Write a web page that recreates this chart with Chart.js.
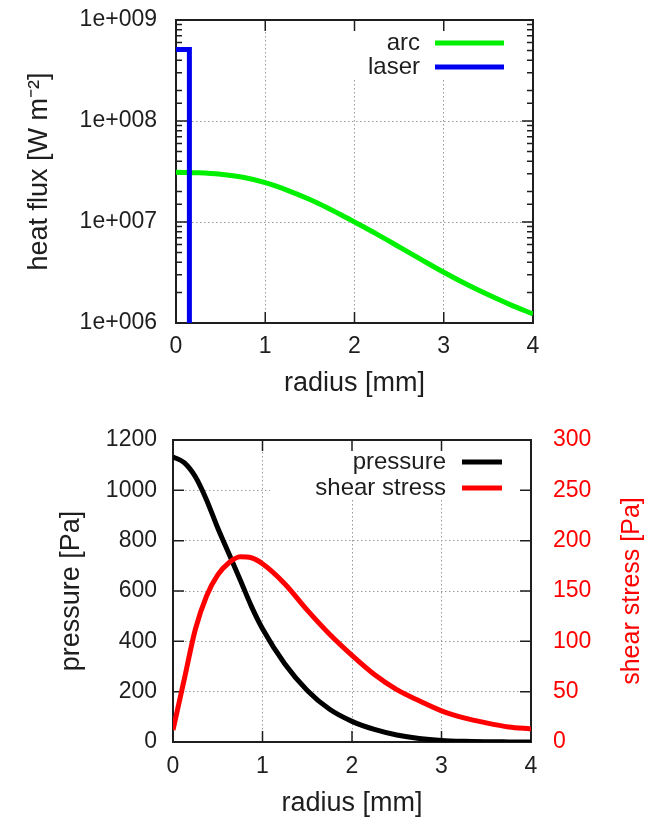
<!DOCTYPE html>
<html>
<head>
<meta charset="utf-8">
<title>Heat flux and surface stress</title>
<script src="https://cdn.jsdelivr.net/npm/chart.js@4.4.1/dist/chart.umd.min.js"></script>
<style>
  html, body { margin: 0; padding: 0; background: #fff; }
  .panel { position: absolute; left: 0; width: 656px; }
  #top { top: 0; height: 400px; }
  #bottom { top: 400px; height: 420px; }
</style>
</head>
<body>
<div class="panel" id="top"><canvas id="fluxChart" width="656" height="400"></canvas></div>
<div class="panel" id="bottom"><canvas id="stressChart" width="656" height="420"></canvas></div>
<script>
// Upper panel: heat flux vs radius
const fluxRadius = [0, 0.25, 0.5, 0.75, 1, 1.25, 1.5, 1.75, 2, 2.25, 2.5, 2.75, 3, 3.25, 3.5, 3.75, 4];
const arcFlux = [3.10e7, 3.07e7, 2.97e7, 2.77e7, 2.45e7, 2.06e7, 1.67e7, 1.31e7, 1.00e7,
                 7.59e6, 5.68e6, 4.24e6, 3.18e6, 2.43e6, 1.90e6, 1.51e6, 1.23e6];
const laserRadius = [0, 0.15, 0.15];
const laserFlux = [5.1e8, 5.1e8, 1e6];

// Lower panel: pressure and shear stress vs radius
const stressRadius = [0, 0.125, 0.25, 0.375, 0.5, 0.625, 0.75, 0.875, 1, 1.25, 1.5, 1.75, 2,
                      2.25, 2.5, 2.75, 3, 3.25, 3.5, 3.75, 4];
const pressure = [1133, 1110, 1054, 962, 850, 748, 645, 540, 450, 310, 205, 130, 82,
                  50, 28, 14, 6, 2.5, 1, 0.4, 0];
const shearStress = [12, 62, 112, 145, 166, 178, 184, 183, 177, 157, 131, 107, 86,
                     67, 52, 41, 31, 24, 19, 15, 13];

const radiusTicks = [0, 1, 2, 3, 4];
const fluxGridLines = [1e7, 1e8];
const pressureGridLines = [200, 400, 600, 800, 1000];

const FONT = '"Liberation Sans", Arial, Helvetica, sans-serif';
const TEXT = '#1e1e1e';
const GRID = '#9a9a9a';

Chart.defaults.font.family = FONT;
Chart.defaults.color = TEXT;

function toPoints(xs, ys) {
    return xs.map((x, i) => ({ x: x, y: ys[i] }));
}

function isDecade(v) {
    const l = Math.log10(v);
    return Math.abs(l - Math.round(l)) < 1e-9;
}

// gnuplot look: frame, inward ticks, key box inside the plot
const gnuplotStyle = {
    id: 'gnuplotStyle',
    beforeDatasetsDraw(chart, args, opts) {
        const { ctx, chartArea: a } = chart;
        ctx.save();
        // the key has a white background that hides the grid behind it
        ctx.fillStyle = '#fff';
        ctx.fillRect(a.left + opts.boxLeft, a.top + 1, a.right - a.left - opts.boxLeft - 1, opts.boxHeight);

        ctx.strokeStyle = TEXT;
        ctx.lineWidth = 1.5;
        ctx.beginPath();
        const xs = chart.scales.x;
        xs.ticks.forEach(t => {
            const px = xs.getPixelForValue(t.value);
            ctx.moveTo(px, a.bottom); ctx.lineTo(px, a.bottom - 11);
            ctx.moveTo(px, a.top); ctx.lineTo(px, a.top + 11);
        });
        const ys = chart.scales.y;
        ys.ticks.forEach(t => {
            const py = ys.getPixelForValue(t.value);
            const len = (!opts.logY || isDecade(t.value)) ? 11 : 6;
            ctx.moveTo(a.left, py); ctx.lineTo(a.left + len, py);
            ctx.moveTo(a.right, py); ctx.lineTo(a.right - len, py);
        });
        ctx.stroke();

        ctx.lineWidth = 2;
        ctx.strokeRect(a.left, a.top, a.right - a.left, a.bottom - a.top);
        ctx.restore();
    },
    afterDatasetsDraw(chart, args, opts) {
        const { ctx, chartArea: a } = chart;
        ctx.save();
        ctx.font = '24px ' + FONT;
        ctx.textAlign = 'right';
        ctx.textBaseline = 'middle';
        opts.keyItems.forEach((idx, row) => {
            const ds = chart.data.datasets[idx];
            const yy = a.top + opts.keyRows[row];
            ctx.fillStyle = TEXT;
            ctx.fillText(ds.label, a.right - opts.keyText, yy);
            ctx.strokeStyle = ds.borderColor;
            ctx.lineWidth = 5;
            ctx.beginPath();
            ctx.moveTo(a.right - opts.keyLine[0], yy);
            ctx.lineTo(a.right - opts.keyLine[1], yy);
            ctx.stroke();
        });
        // right axis label reads bottom to top, like the left one
        if (opts.rightTitle) {
            ctx.translate(opts.rightTitleX, (a.top + a.bottom) / 2);
            ctx.rotate(-Math.PI / 2);
            ctx.textAlign = 'center';
            ctx.fillStyle = opts.rightTitleColor;
            ctx.font = '25px ' + FONT;
            ctx.fillText(opts.rightTitle, 0, 0);
        }
        ctx.restore();
    }
};

function radiusAxis(height, pad) {
    return {
        type: 'linear',
        min: 0,
        max: 4,
        afterBuildTicks: s => { s.ticks = radiusTicks.map(v => ({ value: v })); },
        afterFit: s => { s.height = height; },
        ticks: { font: { size: 23 }, padding: pad, color: TEXT },
        grid: {
            drawTicks: false,
            lineWidth: 1,
            color: c => (c.tick && c.tick.value > 0 && c.tick.value < 4) ? GRID : 'rgba(0,0,0,0)'
        },
        border: { display: false, dash: [1.5, 2.5] },
        title: { display: true, text: 'radius [mm]', font: { size: 27 }, padding: 0, color: TEXT }
    };
}

// Upper chart
new Chart(document.getElementById('fluxChart'), {
    type: 'line',
    data: {
        datasets: [
            {
                label: 'arc',
                data: toPoints(fluxRadius, arcFlux),
                borderColor: '#00f000',
                borderWidth: 5,
                pointRadius: 0,
                cubicInterpolationMode: 'monotone',
                order: 2
            },
            {
                label: 'laser',
                data: toPoints(laserRadius, laserFlux),
                borderColor: '#0000f0',
                borderWidth: 5,
                pointRadius: 0,
                tension: 0,
                order: 1
            }
        ]
    },
    options: {
        responsive: false,
        animation: false,
        layout: { padding: { left: 23, top: 20, right: 123, bottom: 0 } },
        plugins: {
            legend: { display: false },
            tooltip: { enabled: false },
            gnuplotStyle: {
                logY: true,
                boxLeft: 169, boxHeight: 59,
                keyItems: [0, 1], keyRows: [23, 47],
                keyText: 113, keyLine: [98, 29]
            }
        },
        scales: {
            x: radiusAxis(77, 10),
            y: {
                type: 'logarithmic',
                min: 1e6,
                max: 1e9,
                afterFit: s => { s.width = 153; s.paddingTop = 0; s.paddingBottom = 0; },
                ticks: {
                    autoSkip: false,
                    font: { size: 23 },
                    padding: 19,
                    color: TEXT,
                    callback: v => isDecade(v) ? '1e+' + String(Math.round(Math.log10(v))).padStart(3, '0') : ''
                },
                grid: {
                    drawTicks: false,
                    lineWidth: 1,
                    color: c => (c.tick && fluxGridLines.some(g => Math.abs(c.tick.value / g - 1) < 1e-6)) ? GRID : 'rgba(0,0,0,0)'
                },
                border: { display: false, dash: [1.5, 2.5] },
                title: { display: true, text: 'heat flux [W m\u207B\u00B2]', font: { size: 27 }, padding: 0, color: TEXT }
            }
        }
    },
    plugins: [gnuplotStyle]
});

// Lower chart
new Chart(document.getElementById('stressChart'), {
    type: 'line',
    data: {
        datasets: [
            {
                label: 'pressure',
                data: toPoints(stressRadius, pressure),
                borderColor: '#000000',
                borderWidth: 5,
                pointRadius: 0,
                cubicInterpolationMode: 'monotone',
                yAxisID: 'y',
                order: 2
            },
            {
                label: 'shear stress',
                data: toPoints(stressRadius, shearStress),
                borderColor: '#ff0000',
                borderWidth: 5,
                pointRadius: 0,
                cubicInterpolationMode: 'monotone',
                yAxisID: 'y2',
                order: 1
            }
        ]
    },
    options: {
        responsive: false,
        animation: false,
        layout: { padding: { left: 55, top: 40, right: 0, bottom: 0 } },
        plugins: {
            legend: { display: false },
            tooltip: { enabled: false },
            gnuplotStyle: {
                logY: false,
                boxLeft: 97, boxHeight: 59,
                keyItems: [0, 1], keyRows: [22, 48],
                keyText: 85, keyLine: [69, 29],
                rightTitle: 'shear stress [Pa]',
                rightTitleX: 632,
                rightTitleColor: '#ff0000'
            }
        },
        scales: {
            x: radiusAxis(78, 11),
            y: {
                type: 'linear',
                min: 0,
                max: 1200,
                afterFit: s => { s.width = 118; s.paddingTop = 0; s.paddingBottom = 0; },
                ticks: { stepSize: 200, font: { size: 23 }, padding: 16, color: TEXT, callback: v => String(v) },
                grid: {
                    drawTicks: false,
                    lineWidth: 1,
                    color: c => (c.tick && pressureGridLines.includes(c.tick.value)) ? GRID : 'rgba(0,0,0,0)'
                },
                border: { display: false, dash: [1.5, 2.5] },
                title: { display: true, text: 'pressure [Pa]', font: { size: 27 }, padding: 0, color: TEXT }
            },
            y2: {
                type: 'linear',
                position: 'right',
                min: 0,
                max: 300,
                afterFit: s => { s.width = 125; s.paddingTop = 0; s.paddingBottom = 0; },
                ticks: { stepSize: 50, font: { size: 23 }, padding: 22, color: '#ff0000', callback: v => String(v) },
                grid: { display: false, drawTicks: false },
                border: { display: false }
            }
        }
    },
    plugins: [gnuplotStyle]
});
</script>
</body>
</html>
